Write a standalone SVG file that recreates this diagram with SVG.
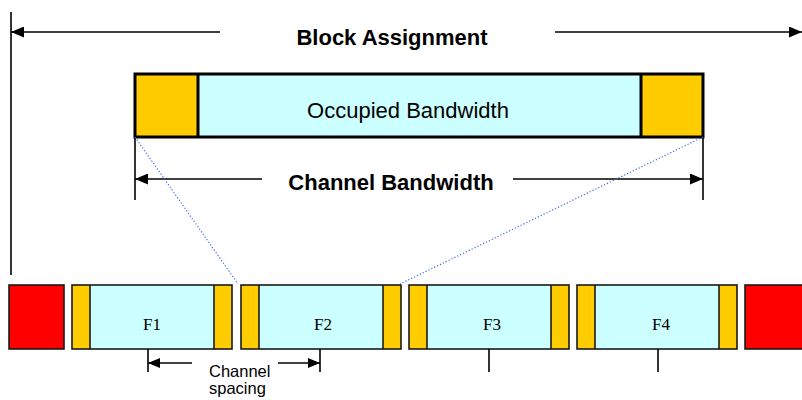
<svg xmlns="http://www.w3.org/2000/svg" width="802" height="400" viewBox="0 0 802 400">
  <style>
    .bold { font-family: "Liberation Sans", Arial, sans-serif; font-weight: bold; font-size: 22px; fill: #000; }
    .sans { font-family: "Liberation Sans", Arial, sans-serif; font-size: 22px; fill: #000; }
    .small { font-family: "Liberation Sans", Arial, sans-serif; font-size: 16.5px; fill: #000; }
    .serif { font-family: "Liberation Serif", "Times New Roman", serif; font-size: 17px; fill: #000; }
    .occ { fill: #CCFFFF; }
    .guard { fill: #FFCC00; }
    .red { fill: #FF0000; }
    .edge { fill: none; stroke: #1a1a1a; stroke-width: 1.6; }
    .thick { fill: none; stroke: #000; stroke-width: 3; }
    .dim { stroke: #000; stroke-width: 1.6; fill: none; }
    .dot { stroke: #3a6ae8; stroke-width: 1.2; stroke-dasharray: 1.2 2; fill: none; }
  </style>
  <defs>
    <marker id="arrow" markerUnits="userSpaceOnUse" markerWidth="13" markerHeight="11" refX="13" refY="5.5" orient="auto">
      <path d="M0,0 L13,5.5 L0,11 z" fill="#000"/>
    </marker>
    <marker id="arrowSmall" markerUnits="userSpaceOnUse" markerWidth="12" markerHeight="10" refX="12" refY="5" orient="auto">
      <path d="M0,0 L12,5 L0,10 z" fill="#000"/>
    </marker>
  </defs>

  <rect width="802" height="400" fill="#fff"/>

  <!-- Single channel detail: guard bands around occupied bandwidth -->
  <g id="channel-detail">
    <rect class="occ" x="135" y="74" width="568" height="63"/>
    <rect class="guard" x="135" y="74" width="63" height="63"/>
    <rect class="guard" x="641" y="74" width="62" height="63"/>
    <rect class="thick" x="135" y="74" width="568" height="63"/>
    <line class="thick" x1="198" y1="74" x2="198" y2="137"/>
    <line class="thick" x1="641" y1="74" x2="641" y2="137"/>
    <text class="sans" x="408" y="118" text-anchor="middle">Occupied Bandwidth</text>
  </g>

  <!-- Channel row -->
  <g id="red-left">
    <rect class="red" x="9" y="285" width="55" height="64"/>
    <rect class="edge" x="9" y="285" width="55" height="64"/>
  </g>

  <g id="F1">
    <rect class="occ" x="72" y="285" width="160" height="64"/>
    <rect class="guard" x="72" y="285" width="18" height="64"/>
    <rect class="guard" x="214" y="285" width="18" height="64"/>
    <rect class="edge" x="72" y="285" width="160" height="64"/>
    <line class="edge" x1="90" y1="285" x2="90" y2="349"/>
    <line class="edge" x1="214" y1="285" x2="214" y2="349"/>
    <text class="serif" x="152" y="330" text-anchor="middle">F1</text>
  </g>

  <g id="F2">
    <rect class="occ" x="241" y="285" width="160" height="64"/>
    <rect class="guard" x="241" y="285" width="18" height="64"/>
    <rect class="guard" x="383" y="285" width="18" height="64"/>
    <rect class="edge" x="241" y="285" width="160" height="64"/>
    <line class="edge" x1="259" y1="285" x2="259" y2="349"/>
    <line class="edge" x1="383" y1="285" x2="383" y2="349"/>
    <text class="serif" x="323" y="330" text-anchor="middle">F2</text>
  </g>

  <g id="F3">
    <rect class="occ" x="409" y="285" width="160" height="64"/>
    <rect class="guard" x="409" y="285" width="18" height="64"/>
    <rect class="guard" x="551" y="285" width="18" height="64"/>
    <rect class="edge" x="409" y="285" width="160" height="64"/>
    <line class="edge" x1="427" y1="285" x2="427" y2="349"/>
    <line class="edge" x1="551" y1="285" x2="551" y2="349"/>
    <text class="serif" x="492" y="330" text-anchor="middle">F3</text>
  </g>

  <g id="F4">
    <rect class="occ" x="577" y="285" width="160" height="64"/>
    <rect class="guard" x="577" y="285" width="18" height="64"/>
    <rect class="guard" x="719" y="285" width="18" height="64"/>
    <rect class="edge" x="577" y="285" width="160" height="64"/>
    <line class="edge" x1="595" y1="285" x2="595" y2="349"/>
    <line class="edge" x1="719" y1="285" x2="719" y2="349"/>
    <text class="serif" x="661" y="330" text-anchor="middle">F4</text>
  </g>

  <g id="red-right">
    <rect class="red" x="745" y="285" width="62" height="64"/>
    <rect class="edge" x="745" y="285" width="62" height="64"/>
  </g>

  <!-- Dimension lines, projection lines and labels -->
  <g id="connectors">
    <!-- block assignment -->
    <line class="dim" x1="11" y1="12" x2="11" y2="275"/>
    <line class="dim" x1="220" y1="32" x2="11" y2="32" marker-end="url(#arrow)"/>
    <line class="dim" x1="555" y1="32" x2="802" y2="32" marker-end="url(#arrow)"/>

    <!-- channel bandwidth -->
    <line class="dim" x1="135" y1="137" x2="135" y2="200"/>
    <line class="dim" x1="703" y1="137" x2="703" y2="200"/>
    <line class="dim" x1="262" y1="179" x2="135" y2="179" marker-end="url(#arrow)"/>
    <line class="dim" x1="513" y1="179" x2="703" y2="179" marker-end="url(#arrow)"/>

    <!-- projection of the detail onto F2 -->
    <line class="dot" x1="135" y1="137" x2="238" y2="284"/>
    <line class="dot" x1="703" y1="137" x2="400" y2="284"/>

    <!-- channel spacing -->
    <line class="dim" x1="148" y1="349" x2="148" y2="372"/>
    <line class="dim" x1="320" y1="349" x2="320" y2="372"/>
    <line class="dim" x1="489" y1="349" x2="489" y2="372"/>
    <line class="dim" x1="658" y1="349" x2="658" y2="372"/>
    <line class="dim" x1="192" y1="363" x2="148" y2="363" marker-end="url(#arrowSmall)"/>
    <line class="dim" x1="278" y1="363" x2="320" y2="363" marker-end="url(#arrowSmall)"/>
  </g>

  <g id="labels">
    <text class="bold" x="392" y="45" text-anchor="middle">Block Assignment</text>
    <text class="bold" x="391" y="190" text-anchor="middle">Channel Bandwidth</text>
    <text class="small" x="209" y="377">Channel</text>
    <text class="small" x="209" y="394">spacing</text>
  </g>
</svg>
